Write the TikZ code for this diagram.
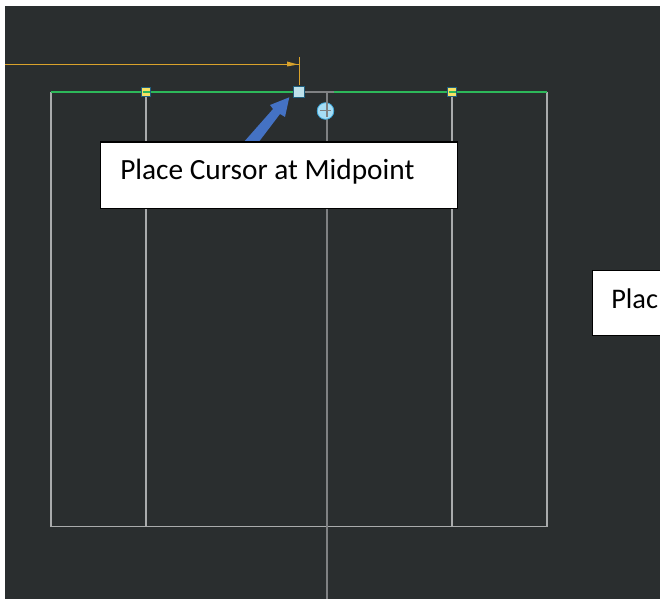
\documentclass[tikz,border=0pt]{standalone}
\usepackage{fontspec}
\setmainfont{Carlito}
\definecolor{bgdark}{HTML}{2A2E2F}
\definecolor{gline}{HTML}{A9ABAC}
\definecolor{vline}{HTML}{7F8183}
\definecolor{greenl}{HTML}{2DB85A}
\definecolor{dimc}{HTML}{D9A22B}
\definecolor{arrowb}{HTML}{4472C4}
\definecolor{gripb}{HTML}{1F5F7F}
\definecolor{gripy}{HTML}{F5E164}
\definecolor{gripc}{HTML}{BEE1EB}
\definecolor{curc}{HTML}{A6DDF5}
\definecolor{curb}{HTML}{3FA9DC}
\tikzset{
  wire/.style={draw=gline,line width=0.8pt},
  axis/.style={draw=vline,line width=0.85pt},
  topline/.style={draw=greenl,line width=2pt},
  dim/.style={draw=dimc,line width=0.65pt},
  labelbox/.style={draw=black,fill=white,line width=0.8pt,rectangle,inner sep=0pt},
  labeltext/.style={anchor=base west,text=black,inner sep=0pt,font=\fontsize{22pt}{26pt}\selectfont},
  grip/.style={draw=gripb,fill=#1,line width=0.7pt,minimum size=6.4pt,inner sep=0pt,rectangle}
}
\begin{document}
\begin{tikzpicture}[x=0.75pt,y=-0.75pt]
\useasboundingbox (0,0) rectangle (660,599);
\fill[white] (0,0) rectangle (660,599);
\fill[bgdark] (5,6) rectangle (660,599);
% corners
\coordinate (tl) at (51,92);
\coordinate (tr) at (547,92);
\coordinate (bl) at (51,526.5);
\coordinate (br) at (547,526.5);
\coordinate (c1t) at (146,92);
\coordinate (c1b) at (146,526.5);
\coordinate (c2t) at (452,92);
\coordinate (c2b) at (452,526.5);
\coordinate (axt) at (327,92);
\coordinate (axb) at (327,599);
\coordinate (dl) at (5,64);
\coordinate (dr) at (299,64);
\coordinate (dt) at (299,57);
\coordinate (db) at (299,85);
% frame
\draw[wire] (tl) -- (bl) -- (br) -- (tr);
\draw[wire] (c1t) -- (c1b);
\draw[wire] (c2t) -- (c2b);
\draw[axis] (axt) -- (axb);
% top line
\draw[topline] (tl) -- (tr);
\draw[draw=vline,line width=2pt] (299,92) -- (334,92);
% dimension
\draw[dim] (dl) -- (dr);
\draw[dim] (dt) -- (db);
\fill[dimc] (298,64.5) -- (287,61.5) -- (287,66.5) -- cycle;
% grips
\node[grip=gripy] (g1) at (146,92) {};
\node[grip=gripy] (g2) at (452,92) {};
\draw[greenl,line width=0.9pt] (142.5,92) -- (149.5,92);
\draw[greenl,line width=0.9pt] (448.5,92) -- (455.5,92);
\node[grip=gripc,minimum size=7.6pt] (gm) at (299,92) {};
% cursor glyph
\node[circle,fill=curc,draw=curb,line width=0.6pt,minimum size=12.5pt,inner sep=0pt] (cur) at (325.5,111) {};
\draw[draw=vline,line width=1pt] (320,110.5) -- (331,110.5);
\draw[draw=vline,line width=1pt] (327,98) -- (327,117);
% blue arrow
\draw[draw=none,fill=arrowb] (243,143) -- (273,109) -- (270,105) -- (289.3,97.3) -- (285,117) -- (280,114) -- (258,143) -- cycle;
% labels
\node[labelbox,minimum width=267.5pt,minimum height=49.5pt,anchor=north west] (lab1) at (100,141.5) {};
\node[labeltext] (lab1t) at (120,180) {Place Cursor at Midpoint};
\path[labelbox,draw=none] (592,270) rectangle (660,335.5);
\draw[black,line width=0.7pt] (660,270) -- (592,270) -- (592,335.5) -- (660,335.5);
\node[labeltext,font=\fontsize{21.3pt}{26pt}\selectfont] (lab2t) at (611,308) {Plac};
\end{tikzpicture}
\end{document}
